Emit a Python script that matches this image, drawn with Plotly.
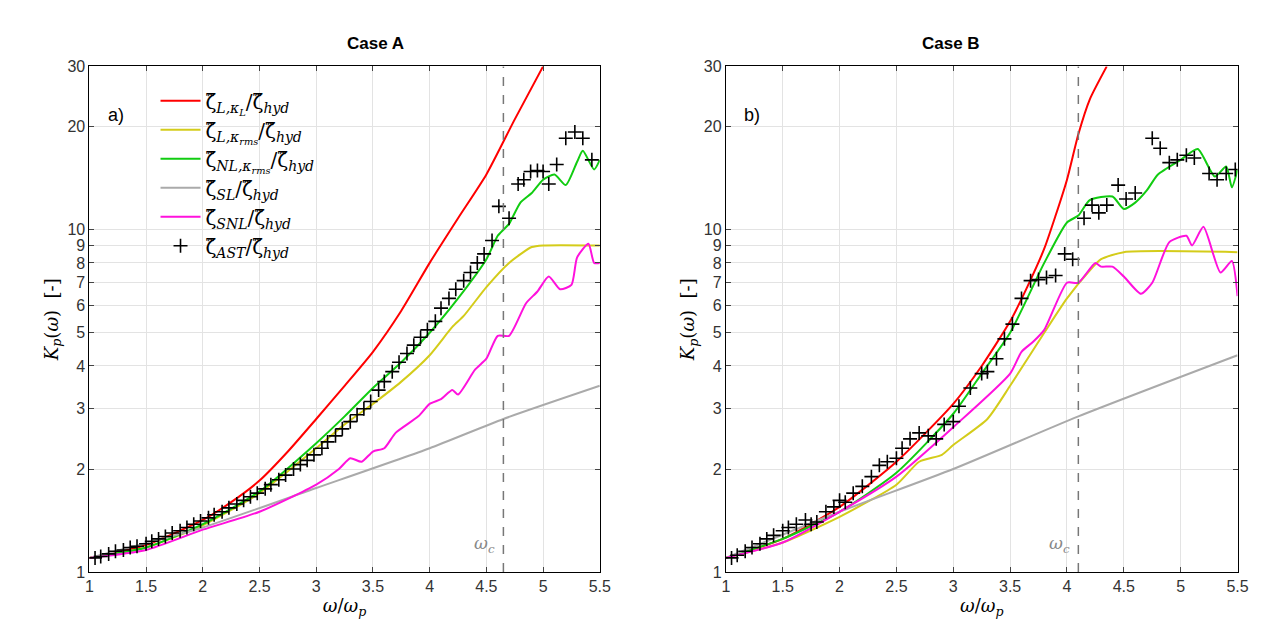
import plotly.graph_objects as go

# ---- Case A ----
a_red_x = [1, 1.5, 2, 2.25, 2.5, 2.75, 3, 3.25, 3.5, 3.75, 4, 4.25, 4.5, 4.75, 5]
a_red_y = [1.1, 1.2, 1.42, 1.6, 1.85, 2.25, 2.8, 3.5, 4.4, 5.8, 8.0, 10.8, 14.5, 21, 30]
a_yel_x = [1, 1.5, 2, 2.5, 3, 3.25, 3.5, 3.75, 4, 4.2, 4.3, 4.5, 4.7, 4.9, 5, 5.5]
a_yel_y = [1.1, 1.18, 1.37, 1.7, 2.3, 2.7, 3.1, 3.6, 4.3, 5.2, 5.6, 6.8, 8.0, 8.9, 9.0, 9.0]
a_grn_x = [1, 1.5, 2, 2.5, 3, 3.25, 3.5, 3.75, 4, 4.25, 4.5, 4.6, 4.65, 4.7, 4.8, 4.9, 5.0, 5.1, 5.2, 5.3, 5.35, 5.45, 5.5]
a_grn_y = [1.1, 1.18, 1.38, 1.72, 2.38, 2.85, 3.45, 4.1, 5.0, 6.3, 8.2, 9.6, 10.0, 10.4, 12.0, 12.8, 14.0, 14.5, 13.5, 15.8, 17.0, 15.0, 16.0]
a_gry_x = [1, 2, 3, 4, 4.65, 5.5]
a_gry_y = [1.1, 1.35, 1.76, 2.3, 2.8, 3.5]
a_mag_x = [1, 1.5, 2, 2.5, 3, 3.2, 3.3, 3.4, 3.5, 3.6, 3.7, 3.9, 4.0, 4.1, 4.2, 4.25, 4.4, 4.5, 4.6, 4.7, 4.85, 4.95, 5.05, 5.15, 5.25, 5.3, 5.4, 5.45, 5.5]
a_mag_y = [1.1, 1.16, 1.33, 1.5, 1.8, 2.0, 2.15, 2.1, 2.25, 2.3, 2.55, 2.85, 3.1, 3.2, 3.4, 3.3, 3.9, 4.2, 4.9, 4.9, 6.1, 6.6, 7.3, 6.7, 6.9, 8.3, 9.1, 8.0, 8.0]
a_ast_x = [1.05, 1.1, 1.17, 1.23, 1.3, 1.36, 1.42, 1.5, 1.55, 1.61, 1.67, 1.73, 1.8, 1.86, 1.92, 1.98, 2.05, 2.1, 2.17, 2.23, 2.3, 2.36, 2.42, 2.48, 2.55, 2.6, 2.67, 2.73, 2.8, 2.86, 2.92, 2.98, 3.05, 3.1, 3.17, 3.23, 3.3, 3.36, 3.42, 3.48, 3.55, 3.6, 3.67, 3.73, 3.8, 3.86, 3.92, 3.98, 4.05, 4.1, 4.17, 4.23, 4.3, 4.36, 4.42, 4.48, 4.55, 4.61, 4.7, 4.78, 4.83, 4.89, 4.95, 5.0, 5.05, 5.12, 5.2, 5.28, 5.35, 5.43]
a_ast_y = [1.1, 1.11, 1.13, 1.15, 1.16, 1.18, 1.19, 1.21, 1.23, 1.25, 1.27, 1.3, 1.32, 1.35, 1.38, 1.41, 1.44, 1.47, 1.5, 1.54, 1.58, 1.62, 1.66, 1.7, 1.75, 1.8, 1.86, 1.92, 2.0, 2.06, 2.12, 2.2, 2.3, 2.4, 2.5, 2.62, 2.75, 2.88, 3.0, 3.15, 3.4, 3.6, 3.85, 4.1, 4.35, 4.6, 4.85, 5.1, 5.4, 5.9, 6.3, 6.7, 7.1, 7.5, 8.0, 8.5, 9.3, 11.7, 10.8, 13.6, 14.0, 14.8, 14.9, 14.8, 13.6, 15.5, 18.5, 19.3, 18.5, 16.0]

# ---- Case B ----
b_red_x = [1, 1.5, 2, 2.5, 3, 3.25, 3.5, 3.65, 3.8, 3.9, 4, 4.1, 4.2, 4.35]
b_red_y = [1.1, 1.25, 1.55, 2.1, 3.1, 4.0, 5.4, 6.8, 8.8, 11.0, 14.0, 19.0, 24, 30]
b_yel_x = [1, 1.5, 2, 2.5, 2.7, 2.9, 3.0, 3.3, 3.5, 3.8, 4.0, 4.2, 4.3, 4.5, 5.5]
b_yel_y = [1.1, 1.22, 1.45, 1.8, 2.1, 2.2, 2.35, 2.8, 3.5, 5.0, 6.3, 7.6, 8.2, 8.6, 8.6]
b_grn_x = [1, 1.5, 2, 2.5, 3, 3.25, 3.5, 3.8, 4.0, 4.1, 4.2, 4.4, 4.5, 4.6, 4.7, 4.8, 5.0, 5.15, 5.3, 5.4, 5.45, 5.5]
b_grn_y = [1.1, 1.25, 1.5, 1.95, 2.9, 3.8, 5.0, 8.0, 10.5, 11.0, 12.2, 12.5, 11.5, 12.0, 13.0, 14.5, 16.0, 17.2, 14.3, 15.3, 13.3, 15.0]
b_gry_x = [1, 2, 3, 4.1, 5.5]
b_gry_y = [1.1, 1.5, 2.0, 2.85, 4.3]
b_mag_x = [1, 1.5, 2, 2.5, 3, 3.5, 3.6, 3.7, 3.8, 4.0, 4.1, 4.25, 4.3, 4.4, 4.5, 4.65, 4.75, 4.9, 5.05, 5.1, 5.2, 5.35, 5.45, 5.5]
b_mag_y = [1.1, 1.22, 1.5, 1.9, 2.65, 3.8, 4.4, 4.7, 5.1, 7.0, 7.0, 8.0, 7.8, 7.8, 7.3, 6.5, 7.0, 9.2, 9.6, 9.0, 10.2, 7.5, 8.1, 6.4]
b_ast_x = [1.05, 1.1, 1.17, 1.23, 1.3, 1.36, 1.42, 1.5, 1.55, 1.62, 1.7, 1.75, 1.8, 1.88, 1.95, 2.0, 2.05, 2.12, 2.2, 2.28, 2.35, 2.42, 2.5, 2.55, 2.62, 2.7, 2.78, 2.85, 2.92, 3.0, 3.05, 3.15, 3.25, 3.3, 3.38, 3.45, 3.52, 3.6, 3.68, 3.75, 3.82, 3.9, 3.98, 4.05, 4.15, 4.22, 4.28, 4.35, 4.45, 4.52, 4.6, 4.75, 4.82, 4.9, 4.97, 5.05, 5.12, 5.25, 5.32, 5.4, 5.48]
b_ast_y = [1.1, 1.12, 1.15, 1.18, 1.21, 1.25, 1.28, 1.32, 1.35, 1.38, 1.42, 1.38, 1.4, 1.5, 1.55, 1.62, 1.6, 1.7, 1.78, 1.9, 2.05, 2.1, 2.15, 2.3, 2.45, 2.55, 2.5, 2.45, 2.7, 2.75, 3.05, 3.45, 3.8, 3.85, 4.2, 4.8, 5.3, 6.3, 7.1, 7.15, 7.25, 7.35, 8.5, 8.2, 10.8, 11.8, 11.2, 11.8, 13.5, 12.3, 12.8, 18.5, 17.3, 15.7, 16.0, 16.5, 16.2, 14.6, 14.0, 14.6, 15.0]

omega_c = [4.65, 4.1]
yticks = [1, 2, 3, 4, 5, 6, 7, 8, 9, 10, 20, 30]
xticks = [1, 1.5, 2, 2.5, 3, 3.5, 4, 4.5, 5, 5.5]

names = ["ζ̃<sub><i>L,κ<sub>L</sub></i></sub>/ζ̃<sub><i>hyd</i></sub>",
         "ζ̃<sub><i>L,κ<sub>rms</sub></i></sub>/ζ̃<sub><i>hyd</i></sub>",
         "ζ̃<sub><i>NL,κ<sub>rms</sub></i></sub>/ζ̃<sub><i>hyd</i></sub>",
         "ζ̃<sub><i>SL</i></sub>/ζ̃<sub><i>hyd</i></sub>",
         "ζ̃<sub><i>SNL</i></sub>/ζ̃<sub><i>hyd</i></sub>",
         "ζ̃<sub><i>AST</i></sub>/ζ̃<sub><i>hyd</i></sub>"]
colors = ["#ff0000", "#d4cc1a", "#11cc11", "#aaaaaa", "#ff11dd"]

fig = go.Figure()
cases = [
    ("x", "y", [(a_red_x, a_red_y), (a_yel_x, a_yel_y), (a_grn_x, a_grn_y), (a_gry_x, a_gry_y), (a_mag_x, a_mag_y)], (a_ast_x, a_ast_y)),
    ("x2", "y2", [(b_red_x, b_red_y), (b_yel_x, b_yel_y), (b_grn_x, b_grn_y), (b_gry_x, b_gry_y), (b_mag_x, b_mag_y)], (b_ast_x, b_ast_y)),
]
for k, (xa, ya, lines, ast) in enumerate(cases):
    for i, (lx, ly) in enumerate(lines):
        fig.add_trace(go.Scatter(x=lx, y=ly, mode="lines", name=names[i], xaxis=xa, yaxis=ya,
                                 line=dict(color=colors[i], width=2, shape="spline", smoothing=0.6),
                                 showlegend=(k == 0)))
    fig.add_trace(go.Scatter(x=ast[0], y=ast[1], mode="markers", name=names[5], xaxis=xa, yaxis=ya,
                             marker=dict(symbol="cross-thin", size=10, line=dict(color="black", width=1.6)),
                             showlegend=(k == 0)))
    fig.add_trace(go.Scatter(x=[omega_c[k], omega_c[k]], y=[1, 30], mode="lines", xaxis=xa, yaxis=ya,
                             line=dict(color="#777777", width=1.5, dash="dash"), showlegend=False))
    fig.add_annotation(x=omega_c[k], y=0.08, xref=xa, yref=ya, text="<i>ω<sub>c</sub></i>", showarrow=False,
                       xanchor="right", xshift=-6, font=dict(family="DejaVu Serif", size=17, color="#888888"))

ax = dict(type="linear", range=[1, 5.5], tickvals=xticks, ticktext=[f"{v:g}" for v in xticks],
          showgrid=True, gridcolor="#e3e3e3", ticks="inside", ticklen=5, mirror="ticks",
          showline=True, linecolor="black", linewidth=1, zeroline=False,
          tickfont=dict(size=16, color="#333333"),
          title=dict(text="<i>ω</i>/<i>ω<sub>p</sub></i>", font=dict(family="DejaVu Serif", size=18), standoff=4))
ay = dict(type="log", range=[0, 1.4771], tickvals=yticks, ticktext=[str(v) for v in yticks],
          showgrid=True, gridcolor="#e3e3e3", ticks="inside", ticklen=5, mirror="ticks",
          showline=True, linecolor="black", linewidth=1, zeroline=False,
          tickfont=dict(size=16, color="#333333"),
          title=dict(text="<i>K<sub>p</sub></i>(<i>ω</i>)  [-]", font=dict(family="DejaVu Serif", size=18), standoff=4))

fig.update_layout(
    width=1263, height=639, margin=dict(l=0, r=0, t=0, b=0),
    plot_bgcolor="white", paper_bgcolor="white",
    font=dict(family="Liberation Sans, Arial", color="black"),
    xaxis=dict(ax, domain=[0.062, 0.471], anchor="y"),
    yaxis=dict(ay, domain=[0.106, 0.919], anchor="x"),
    xaxis2=dict(ax, domain=[0.572, 0.982], anchor="y2"),
    yaxis2=dict(ay, domain=[0.106, 0.919], anchor="x2"),
    legend=dict(x=0.115, y=0.895, xanchor="left", yanchor="top", bgcolor="rgba(0,0,0,0)",
                font=dict(family="DejaVu Serif", size=20), itemwidth=40),
)
fig.add_annotation(x=0.2665, y=0.975, xref="paper", yref="paper", text="<b>Case A</b>", showarrow=False, font=dict(size=17))
fig.add_annotation(x=0.777, y=0.975, xref="paper", yref="paper", text="<b>Case B</b>", showarrow=False, font=dict(size=17))
fig.add_annotation(x=0.075, y=0.86, xref="paper", yref="paper", text="a)", showarrow=False, xanchor="left", font=dict(size=18))
fig.add_annotation(x=0.585, y=0.86, xref="paper", yref="paper", text="b)", showarrow=False, xanchor="left", font=dict(size=18))

fig.write_html("out.html")
